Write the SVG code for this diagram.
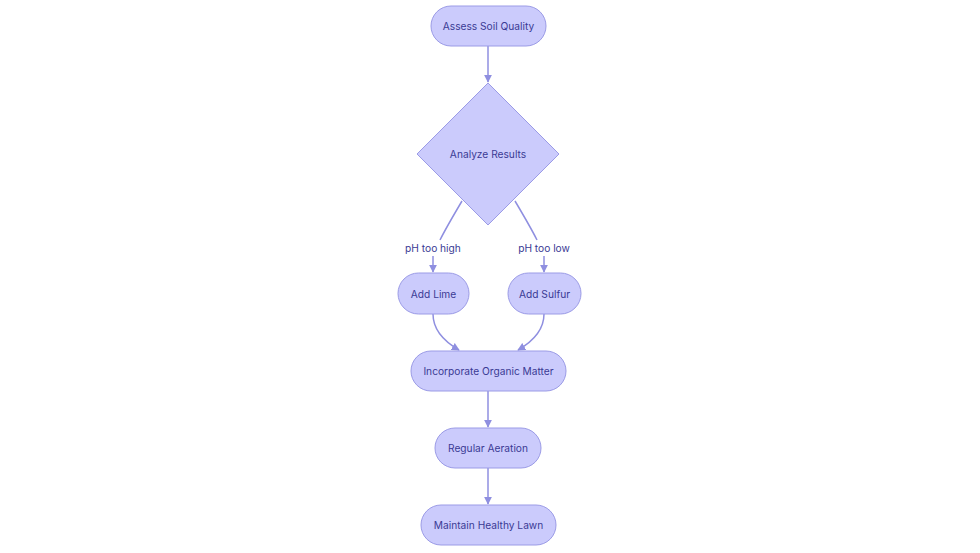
<svg xmlns="http://www.w3.org/2000/svg" width="980" height="553" viewBox="0 0 980 553">
<style>
.n{fill:#cbcbfc;stroke:#9b9be6;stroke-width:1}
.t{font-family:Inter,"Noto Sans",sans-serif;font-size:10.2px;fill:#3a3a94;text-anchor:middle;dominant-baseline:central}
.e{fill:none;stroke:#8f8fe0;stroke-width:1.5}
.l{font-family:Inter,"Noto Sans",sans-serif;font-size:10.2px;fill:#3a3a94;text-anchor:middle;dominant-baseline:central}
</style>
<defs>
<marker id="a" viewBox="0 0 10 10" refX="9" refY="5" markerWidth="8" markerHeight="8" markerUnits="userSpaceOnUse" orient="auto">
<path d="M0,0 L10,5 L0,10 z" fill="#8f8fe0"/>
</marker>
</defs>
<rect width="980" height="553" fill="#ffffff"/>
<g id="edges">
<path class="e" d="M488,46 L488,82" marker-end="url(#a)"/>
<path class="e" d="M462,201 Q446,228 440,240"/>
<path class="e" d="M433,256 L433,272" marker-end="url(#a)"/>
<path class="e" d="M515,201 Q531,228 537,240"/>
<path class="e" d="M544,256 L544,272" marker-end="url(#a)"/>
<path class="e" d="M433,314 Q433,335 459,350" marker-end="url(#a)"/>
<path class="e" d="M544,314 Q544,335 518,350" marker-end="url(#a)"/>
<path class="e" d="M488,391 L488,427" marker-end="url(#a)"/>
<path class="e" d="M488,468 L488,504" marker-end="url(#a)"/>
<text class="l" x="433" y="248">pH too high</text>
<text class="l" x="544" y="248">pH too low</text>
</g>
<g id="assess">
<rect class="n" x="431" y="6" width="115" height="40" rx="20"/>
<text class="t" x="488.5" y="26">Assess Soil Quality</text>
</g>
<g id="analyze">
<polygon class="n" points="488,83 559,154 488,225 417,154"/>
<text class="t" x="488" y="154">Analyze Results</text>
</g>
<g id="lime">
<rect class="n" x="398" y="273" width="71" height="41" rx="20.5"/>
<text class="t" x="433.5" y="293.5">Add Lime</text>
</g>
<g id="sulfur">
<rect class="n" x="508" y="273" width="73" height="41" rx="20.5"/>
<text class="t" x="544.5" y="293.5">Add Sulfur</text>
</g>
<g id="organic">
<rect class="n" x="411" y="351" width="155" height="40" rx="20"/>
<text class="t" x="488.5" y="371">Incorporate Organic Matter</text>
</g>
<g id="aeration">
<rect class="n" x="435" y="428" width="106" height="40" rx="20"/>
<text class="t" x="488" y="448">Regular Aeration</text>
</g>
<g id="maintain">
<rect class="n" x="421" y="505" width="135" height="40" rx="20"/>
<text class="t" x="488.5" y="525">Maintain Healthy Lawn</text>
</g>
</svg>
